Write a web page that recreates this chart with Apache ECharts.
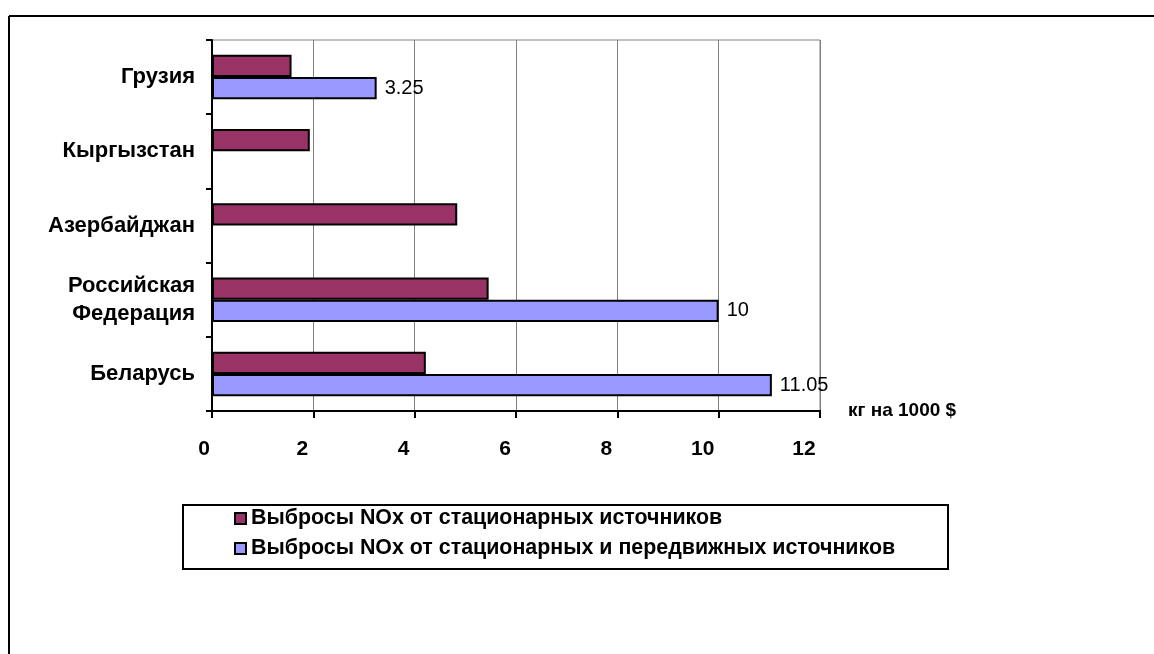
<!DOCTYPE html>
<html><head><meta charset="utf-8">
<script src="https://cdn.jsdelivr.net/npm/echarts@6/dist/echarts.min.js"></script>
<style>html,body{margin:0;padding:0;background:#fff}#c{width:1154px;height:654px}</style>
</head><body><div id="c"></div>
<script>
const categories = ['Беларусь', 'Российская\nФедерация', 'Азербайджан', 'Кыргызстан', 'Грузия'];
const seriesNames = ['Выбросы NOx от стационарных источников', 'Выбросы NOx от стационарных и передвижных источников'];
const stationary = [4.22, 5.46, 4.84, 1.93, 1.57];
const stationaryMobile = [11.05, 10, null, null, 3.25];
const xTicks = { min: 0, max: 12, interval: 2 };
const unitLabel = 'кг на 1000 $';

const FONT = 'Arial, "Liberation Sans", sans-serif';
const lblBase = { fontFamily: FONT, fontWeight: 'bold', fontSize: 21, color: '#000' };
const chart = echarts.init(document.getElementById('c'));
chart.setOption({
  backgroundColor: '#fff',
  animation: false,
  textStyle: { fontFamily: FONT, color: '#000' },
  grid: { left: 212, right: 334, top: 40, bottom: 243, show: true, borderColor: '#808080', borderWidth: 1 },
  xAxis: {
    type: 'value', min: xTicks.min, max: xTicks.max, interval: xTicks.interval,
    name: unitLabel, nameLocation: 'end', nameGap: 28,
    nameTextStyle: { fontFamily: FONT, fontWeight: 'bold', fontSize: 19, color: '#000', verticalAlign: 'middle', padding: [0, 0, 16, 0] },
    axisLine: { show: true, lineStyle: { color: '#000', width: 2 } },
    axisTick: { show: true, length: 7, lineStyle: { color: '#000', width: 2 } },
    splitLine: { show: true, lineStyle: { color: '#808080', width: 1 } },
    axisLabel: {
      margin: 28,
      formatter: function (v) { return v >= 10 ? '{b|' + v + '}' : (v === 0 ? '{c|' + v + '}' : '{a|' + v + '}'); },
      rich: {
        a: Object.assign({}, lblBase, { padding: [0, 22, 0, 0] }),
        b: Object.assign({}, lblBase, { padding: [0, 32, 0, 0] }),
        c: Object.assign({}, lblBase, { padding: [0, 16, 0, 0] })
      }
    }
  },
  yAxis: {
    type: 'category', data: categories,
    axisLine: { show: true, lineStyle: { color: '#000', width: 2 } },
    axisTick: { show: true, length: 6, lineStyle: { color: '#000', width: 2 } },
    axisLabel: Object.assign({}, lblBase, { fontSize: 22, margin: 17, lineHeight: 28 })
  },
  legend: {
    orient: 'vertical', left: 229, top: 503, itemGap: 9,
    icon: 'rect', itemWidth: 11, itemHeight: 11,
    textStyle: { fontFamily: FONT, fontWeight: 'bold', fontSize: 21.4, color: '#000' },
    data: seriesNames
  },
  graphic: [
    { type: 'rect', shape: { x: 183, y: 505, width: 765, height: 64 }, style: { fill: null, stroke: '#000', lineWidth: 2 }, z: -1 },
    { type: 'line', shape: { x1: 9, y1: 16, x2: 1154, y2: 16 }, style: { stroke: '#000', lineWidth: 2 } },
    { type: 'line', shape: { x1: 9, y1: 16, x2: 9, y2: 654 }, style: { stroke: '#000', lineWidth: 2 } }
  ],
  series: [
    {
      name: seriesNames[0], type: 'bar', data: stationary,
      barGap: '0%', barCategoryGap: '40%',
      itemStyle: { color: '#993366', borderColor: '#000', borderWidth: 2 }
    },
    {
      name: seriesNames[1], type: 'bar', data: stationaryMobile,
      barGap: '0%', barCategoryGap: '40%',
      itemStyle: { color: '#9999FF', borderColor: '#000', borderWidth: 2 },
      label: { show: true, position: 'right', distance: 8, fontFamily: FONT, fontSize: 20, color: '#000' }
    }
  ]
});
</script></body></html>
